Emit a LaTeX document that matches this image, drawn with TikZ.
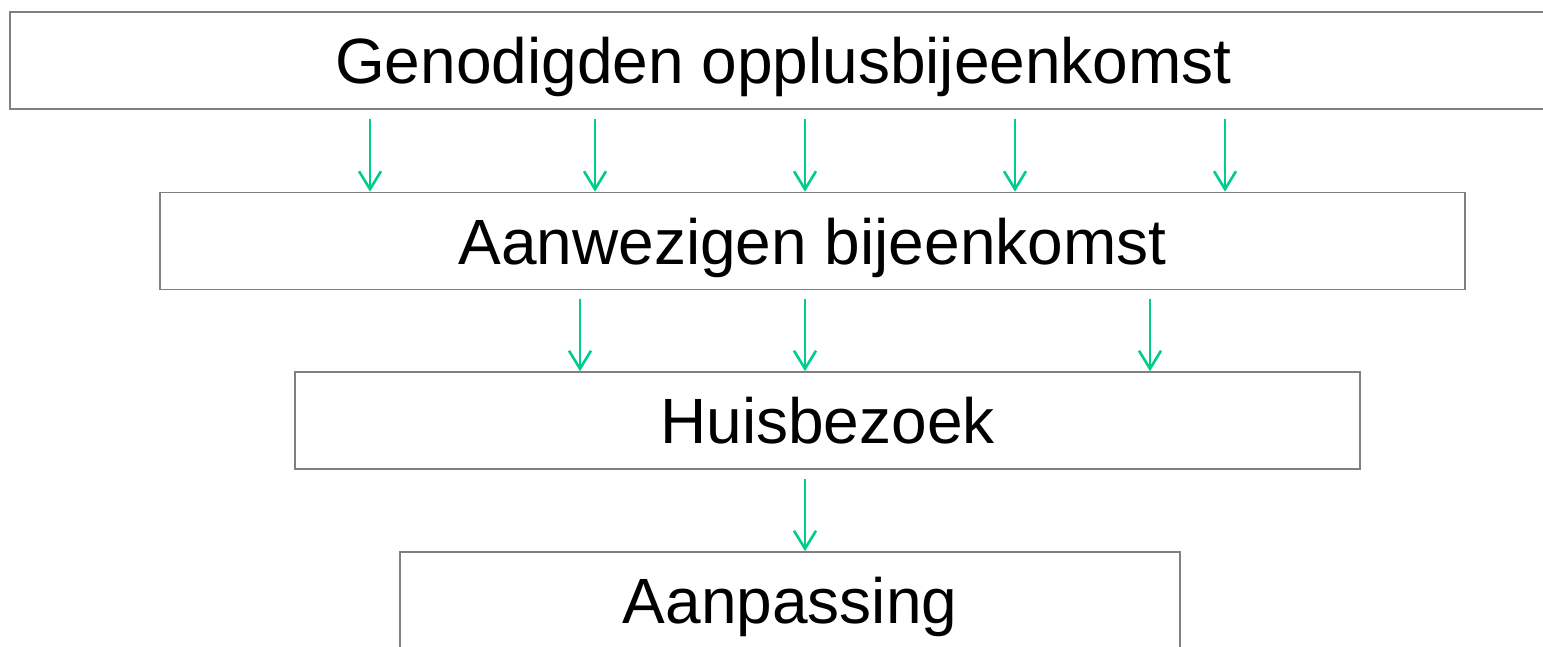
\documentclass[tikz,border=0pt]{standalone}
\usepackage{xcolor}
\usepackage{fontspec}
\setmainfont{Liberation Sans}
\usetikzlibrary{arrows.meta}
\definecolor{groen}{RGB}{0,204,140}
\definecolor{grijs}{RGB}{128,128,128}

\begin{document}
\begin{tikzpicture}[x=1pt,y=-1pt,
  every node/.style={shape=rectangle,draw=grijs,line width=1.6pt,inner sep=0pt,minimum height=97pt,text depth=0pt,font=\fontsize{64}{76}\selectfont},
  pijl/.style={draw=groen,line width=2.6pt,-{Straight Barb[length=18pt,width=22pt]},shorten <=9pt}]
  \useasboundingbox (0,0) rectangle (1543,646);
  \clip (0,0) rectangle (1543,646);
  \node[minimum width=1547pt] (genodigden) at (783.5,60.5) {Genodigden opplusbijeenkomst};
  \node[minimum width=1305pt] (aanwezigen) at (812.5,241) {Aanwezigen bijeenkomst};
  \node[minimum width=1065pt] (huisbezoek) at (827.5,420.5) {Huisbezoek};
  \node[minimum width=780pt] (aanpassing) at (790,600.5) {Aanpassing};
  % pijlen tussen de lagen
  \foreach \x in {370,595,805,1015,1225}
    \draw[pijl] (genodigden.south -| \x,0) -- (aanwezigen.north -| \x,0);
  \foreach \x in {580,805,1150}
    \draw[pijl] (aanwezigen.south -| \x,0) -- (huisbezoek.north -| \x,0);
  \draw[pijl] (huisbezoek.south -| 805,0) -- (aanpassing.north -| 805,0);
\end{tikzpicture}
\end{document}
